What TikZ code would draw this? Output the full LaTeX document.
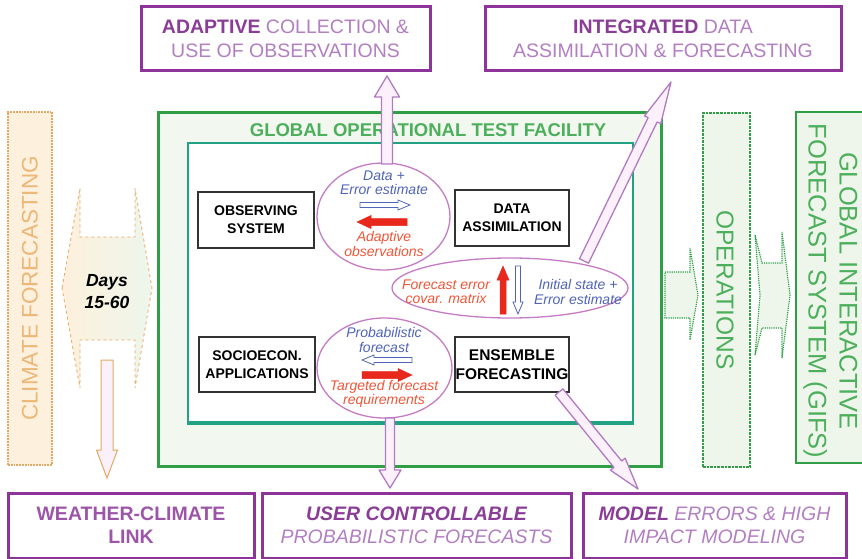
\documentclass[tikz,border=0pt]{standalone}
\usepackage{fontspec}
\setmainfont{Liberation Sans}
\usetikzlibrary{shapes.geometric,calc}
\definecolor{pdark}{HTML}{8A3D96}
\definecolor{pmid}{HTML}{9C55A8}
\definecolor{plight}{HTML}{B27FC2}
\definecolor{pborder}{HTML}{8E3399}
\definecolor{parrow}{HTML}{B27AC3}
\definecolor{pfill}{HTML}{FCF1FA}
\definecolor{ellc}{HTML}{C67CC4}
\definecolor{gborder}{HTML}{2F9E47}
\definecolor{gtext}{HTML}{4DAF5C}
\definecolor{gfill}{HTML}{F2F8F0}
\definecolor{gteal}{HTML}{22A283}
\definecolor{bluet}{HTML}{5064B8}
\definecolor{redt}{HTML}{EF5638}
\definecolor{reda}{HTML}{E8281C}
\definecolor{orb}{HTML}{E3A862}
\definecolor{orfill}{HTML}{FDF0DC}
\definecolor{ortext}{HTML}{EDB778}
\definecolor{greenfill}{HTML}{EEF6EC}
\newcommand\myfatarrow[6]{%
  \coordinate (fa-hb) at ($(#2)!#5!(#1)$);
  \draw[#6] ($(#1)!#3!90:(#2)$) -- ($(fa-hb)!#3!90:(#2)$) -- ($(fa-hb)!#4!90:(#2)$) -- (#2)
     -- ($(fa-hb)!#4!-90:(#2)$) -- ($(fa-hb)!#3!-90:(#2)$) -- ($(#1)!#3!-90:(#2)$) -- cycle;
}
\begin{document}
\begin{tikzpicture}[x=1pt,y=-1pt,
  pbox/.style={draw=pborder, line width=3pt, fill=white, text=plight, align=center, inner sep=0pt,
     font=\fontsize{19.5}{24}\selectfont},
  nbox/.style={draw=black!80, line width=1.4pt, fill=white, align=center, inner sep=0pt,
     font=\fontsize{14}{18}\selectfont\bfseries},
  ellnode/.style={draw=ellc, line width=1.3pt, ellipse, inner sep=0pt},
  bt/.style={text=bluet, font=\fontsize{14}{14.5}\selectfont\itshape, align=center, inner sep=0pt},
  rt/.style={text=redt, font=\fontsize{14}{14.5}\selectfont\itshape, align=center, inner sep=0pt},
  parr/.style={draw=parrow, fill=pfill, line width=1.3pt, line join=round},
  bluearr/.style={draw=bluet, fill=white, line width=0.8pt},
  redarr/.style={draw=reda, fill=reda, line width=0.5pt},
  oarr/.style={draw=orb, fill=pfill, line width=1pt},
  gdot/.style={draw=gborder, densely dotted, line width=1.6pt, fill=greenfill}
]
\useasboundingbox (0,0) rectangle (862,559);
\clip (0,0) rectangle (862,559);

% --- climate forecasting
\node[draw=orb, densely dotted, line width=1.8pt, fill=orfill, minimum width=44pt, minimum height=353pt, inner sep=0pt] (climate) at (30,288.5) {};
\node[rotate=90, text=ortext, font=\fontsize{22.5}{26}\selectfont] at (climate.center) {CLIMATE FORECASTING};

% --- days double arrow
\shade[left color=orfill, right color=greenfill, draw=orb, dashed, line width=0.8pt]
  (62,288) -- (80,188) -- (80,237) -- (135,237) -- (135,188) -- (152,288) -- (135,388) -- (135,340) -- (80,340) -- (80,388) -- cycle;
\node[font=\fontsize{17.5}{22}\selectfont\bfseries\itshape, align=center, inner sep=0pt] (days) at (107,292) {Days\\15-60};
\coordinate (dayS) at (107,360);

% --- GOTF
\node[draw=gborder, line width=3pt, fill=gfill, minimum width=503pt, minimum height=353pt, inner sep=0pt] (gotf) at (409.5,289.5) {};
\node[text=gtext, font=\fontsize{18.5}{20}\selectfont\bfseries, inner sep=0pt] (gtitle) at (428,130) {GLOBAL OPERATIONAL TEST FACILITY};
\node[draw=gteal, line width=1.5pt, fill=white, minimum width=445pt, minimum height=279pt, inner sep=0pt] (inner) at (410.5,282.5) {};
\draw[gteal, line width=3.5pt] (inner.south west) -- (inner.south east);

% --- operations and GIFS
\node[draw=gborder, densely dotted, line width=2.6pt, fill=greenfill, minimum width=47pt, minimum height=354pt, inner sep=0pt] (ops) at (726.5,290) {};
\node[rotate=-90, text=gtext, font=\fontsize{24.5}{26}\selectfont] at (725,290) {OPERATIONS};
\node[draw=gborder, line width=2pt, fill=greenfill, minimum width=80pt, minimum height=351pt, inner sep=0pt, anchor=west] (gifs) at (795,287.5) {};
\node[rotate=-90, text=gtext, font=\fontsize{25.5}{31}\selectfont, align=center] at (830.5,291) {GLOBAL INTERACTIVE\\FORECAST SYSTEM (GIFS)};

% small dotted arrows
\draw[gdot, line width=1.2pt] (665,272) -- (690,272) -- (690,248) -- (698,295) -- (690,340) -- (690,318) -- (665,318) -- cycle;
\draw[gdot, line width=1.2pt] (755,235) -- (762,263) -- (782,263) -- (782,232) -- (790,295) -- (782,358) -- (782,328) -- (762,328) -- (755,355) -- (760,295) -- cycle;

% --- process boxes
\node[nbox, minimum width=116pt, minimum height=56pt] (obs) at (256,220) {OBSERVING\\SYSTEM};
\node[nbox, minimum width=114pt, minimum height=56pt] (da) at (512,218) {DATA\\ASSIMILATION};
\node[nbox, minimum width=116pt, minimum height=55pt] (soc) at (257,364.5) {SOCIOECON.\\APPLICATIONS};
\node[nbox, minimum width=114pt, minimum height=55pt, font=\fontsize{15.5}{19}\selectfont\bfseries] (ens) at (512,364.5) {ENSEMBLE\\FORECASTING};

% --- ellipses
\node[ellnode, minimum width=133pt, minimum height=107pt] (e1) at (383.5,216.5) {};
\node[ellnode, minimum width=236pt, minimum height=60pt] (e2) at (510,288) {};
\node[ellnode, minimum width=135pt, minimum height=100pt] (e3) at (384.5,368) {};

\node[bt] (e1t) at (384,183) {Data +\\Error estimate};
\node[rt] (e1b) at (384,244) {Adaptive\\observations};
\coordinate (a1s) at (360,205); \coordinate (a1e) at (410,205);
\myfatarrow{a1s}{a1e}{2.5pt}{5pt}{12pt}{bluearr}
\coordinate (a2s) at (407,222); \coordinate (a2e) at (357,222);
\myfatarrow{a2s}{a2e}{3.5pt}{6.5pt}{14pt}{redarr}

\node[rt] (e2l) at (446,292) {Forecast error\\covar. matrix};
\node[bt] (e2r) at (578,292) {Initial state +\\Error estimate};
\coordinate (a3s) at (503,314); \coordinate (a3e) at (503,266);
\myfatarrow{a3s}{a3e}{3pt}{6pt}{14pt}{redarr}
\coordinate (a4s) at (518,266); \coordinate (a4e) at (518,314);
\myfatarrow{a4s}{a4e}{2.5pt}{5pt}{12pt}{bluearr}

\node[bt] (e3t) at (384,340) {Probabilistic\\forecast};
\node[rt] (e3b) at (384,394) {Targeted forecast\\requirements};
\coordinate (a5s) at (412,360); \coordinate (a5e) at (362,360);
\myfatarrow{a5s}{a5e}{2.5pt}{5pt}{12pt}{bluearr}
\coordinate (a6s) at (362,375); \coordinate (a6e) at (412,375);
\myfatarrow{a6s}{a6e}{3.5pt}{6.5pt}{14pt}{redarr}

% --- outcome boxes
\node[pbox, minimum width=289pt, minimum height=64pt] (adapt) at (285.5,39) {{\color{pdark}\bfseries ADAPTIVE} COLLECTION \&\\USE OF OBSERVATIONS};
\node[pbox, minimum width=356pt, minimum height=64pt] (integ) at (663,39) {{\color{pdark}\bfseries INTEGRATED} DATA\\ASSIMILATION \& FORECASTING};
\node[pbox, minimum width=246pt, minimum height=65pt, text=pmid, font=\fontsize{19.5}{23}\selectfont\bfseries] (wcl) at (131,525.5) {WEATHER-CLIMATE\\LINK};
\node[pbox, minimum width=309pt, minimum height=65pt, font=\fontsize{19.5}{23}\selectfont\itshape] (user) at (416.5,525.5) {{\color{pdark}\bfseries USER CONTROLLABLE}\\PROBABILISTIC FORECASTS};
\node[pbox, minimum width=263pt, minimum height=65pt, font=\fontsize{19.5}{23}\selectfont\itshape] (model) at (714.5,525.5) {{\color{pdark}\bfseries MODEL} ERRORS \& HIGH\\IMPACT MODELING};

% --- purple connectors
\coordinate (c1s) at (387,164); \coordinate (c1e) at (387,76);
\myfatarrow{c1s}{c1e}{5.5pt}{12.5pt}{21pt}{parr}
\coordinate (c2s) at (390,418); \coordinate (c2e) at (390,488);
\myfatarrow{c2s}{c2e}{4.5pt}{11pt}{18pt}{parr}
\coordinate (c3s) at (584,261); \coordinate (c3e) at (671,82);
\myfatarrow{c3s}{c3e}{5pt}{9pt}{42pt}{parr}
\coordinate (c4s) at (559,392); \coordinate (c4e) at (638,489);
\myfatarrow{c4s}{c4e}{5pt}{9.5pt}{32pt}{parr}

% --- orange down arrow
\coordinate (dayE) at (107,478);
\myfatarrow{dayS}{dayE}{6pt}{10.5pt}{28pt}{oarr}
\end{tikzpicture}
\end{document}
